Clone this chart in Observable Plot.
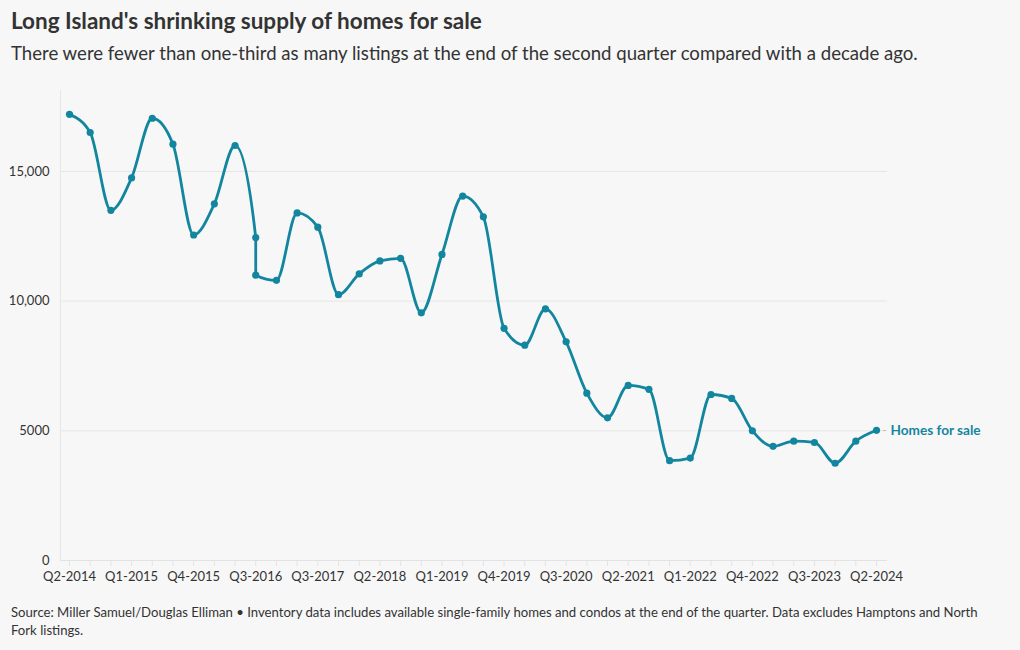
<!DOCTYPE html>
<html><head><meta charset="utf-8">
<script src="https://cdn.jsdelivr.net/npm/d3@7"></script>
<script src="https://cdn.jsdelivr.net/npm/@observablehq/plot@0.6"></script>
<style>
html,body{margin:0;padding:0}
body{background:#f7f7f7;font-family:Lato,"Noto Sans",sans-serif;color:#333;width:1020px;height:650px;overflow:hidden;position:relative}
#title{position:absolute;left:11px;top:7px;font-size:22.5px;font-weight:700;color:#333;white-space:nowrap}
#sub{position:absolute;left:11px;top:42px;font-size:18.6px;color:#333;white-space:nowrap}
#chart{position:absolute;left:0;top:80px}
#cap{position:absolute;left:11px;top:603px;width:980px;font-size:13.15px;line-height:18px;color:#333}
</style></head><body>
<div id="title">Long Island's shrinking supply of homes for sale</div>
<div id="sub">There were fewer than one-third as many listings at the end of the second quarter compared with a decade ago.</div>
<div id="chart"></div>
<div id="cap">Source: Miller Samuel/Douglas Elliman • Inventory data includes available single-family homes and condos at the end of the quarter. Data excludes Hamptons and North Fork listings.</div>
<script>
// Quarter labels for each data point (Q3-2016 and Q4-2016 share one slot in the original chart)
const quarters = ["Q2-2014","Q3-2014","Q4-2014","Q1-2015","Q2-2015","Q3-2015","Q4-2015","Q1-2016","Q2-2016","Q3-2016",
  "Q4-2016","Q1-2017","Q2-2017","Q3-2017","Q4-2017","Q1-2018","Q2-2018","Q3-2018","Q4-2018","Q1-2019",
  "Q2-2019","Q3-2019","Q4-2019","Q1-2020","Q2-2020","Q3-2020","Q4-2020","Q1-2021","Q2-2021","Q3-2021",
  "Q4-2021","Q1-2022","Q2-2022","Q3-2022","Q4-2022","Q1-2023","Q2-2023","Q3-2023","Q4-2023","Q1-2024","Q2-2024"];
const homesForSale = [17200,16500,13500,14750,17050,16050,12550,13750,16000,12450,
  11000,10800,13400,12850,10250,11050,11550,11650,9550,11800,
  14050,13250,8950,8300,9700,8430,6450,5500,6750,6600,
  3850,3950,6400,6250,5000,4400,4600,4550,3750,4600,5020];
// x slot of each point as drawn (the 11th point sits on the 10th slot)
const slots = quarters.map((q, i) => i <= 9 ? i : i - 1);
const xTickLabels = ["Q2-2014","Q1-2015","Q4-2015","Q3-2016","Q3-2017","Q2-2018","Q1-2019","Q4-2019","Q3-2020","Q2-2021","Q1-2022","Q4-2022","Q3-2023","Q2-2024"];
const yTicks = [0, 5000, 10000, 15000];
const seriesName = "Homes for sale";

const data = quarters.map((q, i) => ({quarter: q, slot: slots[i], value: homesForSale[i]}));
const last = data[data.length - 1];
const nSlots = d3.max(slots);
const labelSlots = xTickLabels.map((d, i) => i * 3);
const teal = "#13869f";
const fontFam = "Lato, 'Noto Sans', sans-serif";

const chart = Plot.plot({
  width: 1020,
  height: 515,
  marginLeft: 60,
  marginRight: 133,
  marginTop: 10,
  marginBottom: 35,
  style: {background: "transparent", fontFamily: fontFam, fontSize: "13px", color: "#333", overflow: "visible"},
  x: {type: "linear", domain: [-0.435, nSlots + 0.53]},
  y: {domain: [0, 18120]},
  marks: [
    Plot.gridY(yTicks.slice(1), {stroke: "#e6e6e6", strokeOpacity: 1}),
    Plot.ruleY([0], {stroke: "#e3e3e3"}),
    Plot.frame({anchor: "left", stroke: "#e6e6e6"}),
    Plot.axisY(yTicks, {tickSize: 0, tickPadding: 11, label: null,
      tickFormat: d => d >= 10000 ? d3.format(",")(d) : String(d), fill: "#333", fontSize: 13}),
    Plot.axisX(d3.range(0, nSlots + 1), {tickSize: 6, stroke: "#e3e3e3", tickFormat: () => "", label: null}),
    Plot.axisX(labelSlots, {tickSize: 0, tickPadding: 11, label: null,
      tickFormat: (d, i) => xTickLabels[i], fill: "#333", fontSize: 13}),
    Plot.line(data, {x: "slot", y: "value", curve: "monotone-x", stroke: teal, strokeWidth: 2.8}),
    Plot.dot(data, {x: "slot", y: "value", r: 3.6, fill: teal}),
    Plot.text([last], {x: "slot", y: "value", text: () => "-", dx: 8, fill: "#bbb", fontSize: 12}),
    Plot.text([last], {x: "slot", y: "value", text: () => seriesName, dx: 14, textAnchor: "start",
      fill: teal, fontWeight: "bold", fontSize: 13.6})
  ]
});
document.getElementById("chart").appendChild(chart);
</script>
</body></html>
